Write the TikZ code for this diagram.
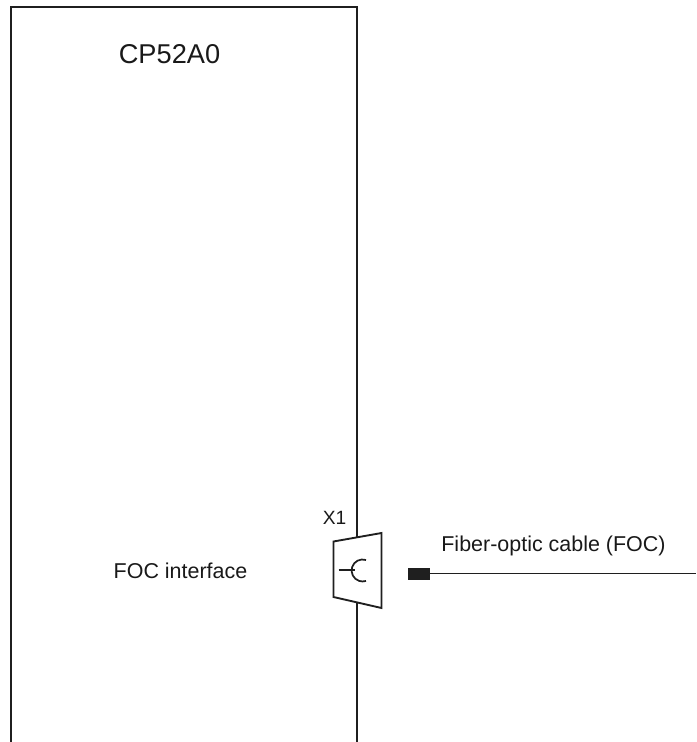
\documentclass[tikz,border=0pt]{standalone}
\usepackage{fontspec}
\setmainfont{Liberation Sans}
\tikzset{
  wire/.style={line width=1.4pt,color=black!88},
  thinwire/.style={line width=1.3pt,color=black!88},
  lbl/.style={inner sep=0pt,text=black!90,font=\fontsize{16.1pt}{18pt}\selectfont},
}
\begin{document}
\begin{tikzpicture}[x=0.75pt,y=-0.75pt]
\useasboundingbox (0,0) rectangle (696,742);
\coordinate (bl) at (11,742);
\coordinate (tl) at (11,7);
\coordinate (tr) at (357,7);
\coordinate (sa) at (357,537);
\coordinate (sb) at (357,602.5);
\coordinate (br) at (357,742);
\draw[wire] (bl) -- (tl) -- (tr) -- (sa);
\draw[wire] (sb) -- (br);
\coordinate (c1) at (333.5,541.5);
\coordinate (c2) at (381.5,533);
\coordinate (c3) at (381.5,608);
\coordinate (c4) at (333.5,597);
\draw[wire,line join=miter] (c1) -- (c2) -- (c3) -- (c4) -- cycle;
\coordinate (st) at (338.5,570);
\coordinate (sk) at (355,570);
\draw[thinwire] (st) -- (sk);
\draw[thinwire] (366,560) arc[start angle=72,end angle=288,x radius=11,y radius=-11];
\node[fill=black!88,inner sep=0pt,minimum width=16.5pt,minimum height=9pt] (plug) at (419,574) {};
\coordinate (cableend) at (696,573.5);
\draw[wire] (plug.east |- cableend) -- (cableend);
\node[lbl,font=\fontsize{20.4pt}{24pt}\selectfont] (title) at (169.5,54.5) {CP52A0};
\node[lbl] (foc) at (180.5,570.5) {FOC interface};
\node[lbl,font=\fontsize{14.4pt}{16pt}\selectfont] (x1) at (334.5,518) {X1};
\node[lbl] (cable) at (553.5,545.5) {Fiber-optic cable (FOC)};
\end{tikzpicture}
\end{document}
